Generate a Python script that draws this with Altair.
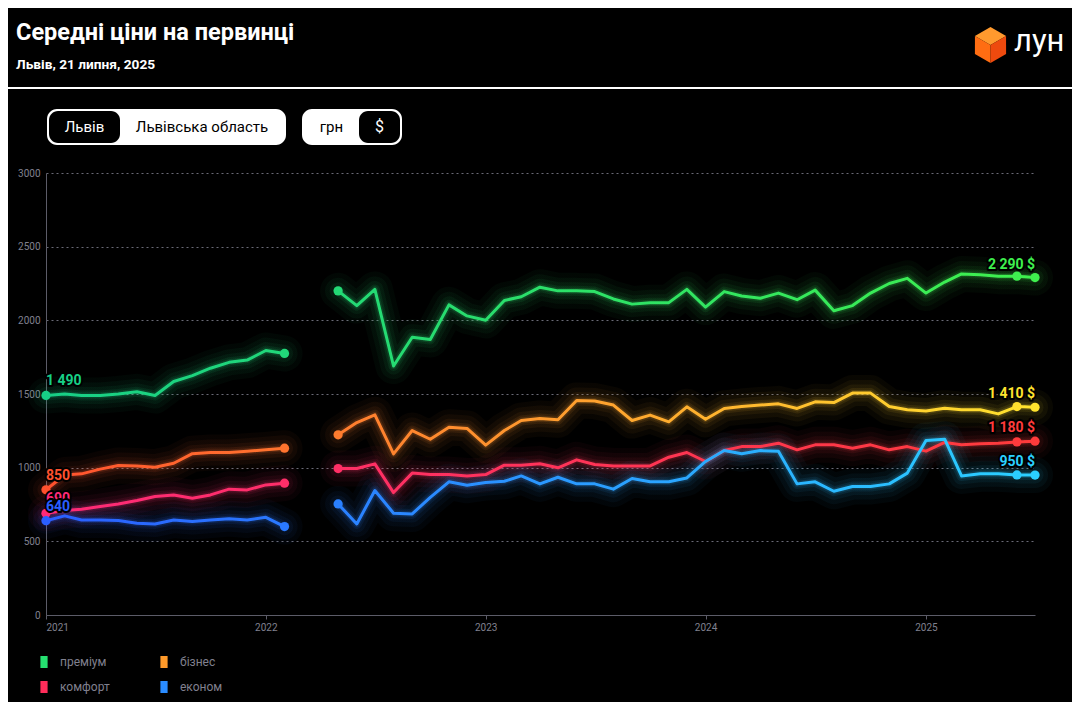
import altair as alt
import pandas as pd

# ---------------- data ----------------
MONTHS = [f"{y}-{m:02d}-01" for y in range(2021, 2026) for m in range(1, 13)][:55]

SERIES = ["преміум", "бізнес", "комфорт", "економ"]

PREMIUM = [1490, 1500, 1490, 1490, 1500, 1515, 1490, 1585, 1625, 1675, 1715, 1730, 1795, 1775,
           None, None,
           2200, 2100, 2210, 1690, 1885, 1870, 2105, 2030, 2000, 2135, 2160, 2225, 2200, 2200,
           2195, 2145, 2110, 2120, 2120, 2210, 2090, 2195, 2165, 2150, 2185, 2140, 2205, 2065,
           2100, 2185, 2250, 2285, 2185, 2260, 2315, 2310, 2300, 2300, 2290]
BUSINESS = [850, 950, 958, 990, 1015, 1012, 1003, 1030, 1095, 1103, 1103, 1112, 1121, 1132,
            None, None,
            1223, 1306, 1359, 1094, 1252, 1193, 1275, 1266, 1153, 1252, 1320, 1334, 1325, 1456,
            1452, 1425, 1320, 1357, 1311, 1413, 1329, 1402, 1415, 1425, 1433, 1402, 1447, 1442,
            1506, 1506, 1415, 1393, 1384, 1404, 1393, 1393, 1365, 1415, 1410]
COMFORT = [690, 709, 718, 736, 754, 777, 804, 815, 793, 815, 854, 849, 883, 895,
           None, None,
           994, 994, 1026, 831, 963, 953, 953, 944, 953, 1017, 1017, 1026, 999, 1053,
           1021, 1012, 1012, 1012, 1071, 1103, 1042, 1116, 1143, 1143, 1166, 1121, 1155, 1155,
           1132, 1155, 1121, 1143, 1112, 1171, 1155, 1162, 1166, 1175, 1180]
ECONOM = [640, 673, 645, 645, 641, 623, 618, 645, 634, 645, 654, 645, 663, 600,
          None, None,
          754, 618, 845, 691, 686, 799, 904, 881, 899, 908, 944, 890, 935, 890,
          890, 854, 926, 904, 904, 930, 1042, 1116, 1094, 1116, 1112, 890, 904, 840,
          872, 872, 890, 963, 1184, 1193, 944, 958, 958, 951, 950]

VALUES = {"преміум": PREMIUM, "бізнес": BUSINESS, "комфорт": COMFORT, "економ": ECONOM}

TITLE = "Середні ціни на первинці"
SUBTITLE = "Львів, 21 липня, 2025"
Y_TICKS = [0, 500, 1000, 1500, 2000, 2500, 3000]
YEARS = [2021, 2022, 2023, 2024, 2025]

# ---------------- styles ----------------
C0 = {"преміум": "#17cf86", "бізнес": "#ff512e", "комфорт": "#ff2a78", "економ": "#2a5eff"}
C1 = {"преміум": "#3ff04e", "бізнес": "#ffe32e", "комфорт": "#ff3b3b", "економ": "#2bd0ff"}
LEGEND_COLORS = ["#25e070", "#ff9a2a", "#ff2d5a", "#2a8cff"]
FONT = "Roboto"
LAST = len(MONTHS) - 1


def mix(a, b, t):
    a = [int(a[i:i + 2], 16) for i in (1, 3, 5)]
    b = [int(b[i:i + 2], 16) for i in (1, 3, 5)]
    return "#" + "".join(f"{round(x + (y - x) * t):02x}" for x, y in zip(a, b))


rows = []
for s in SERIES:
    for i, (d, v) in enumerate(zip(MONTHS, VALUES[s])):
        if v is not None:
            rows.append({"series": s, "date": d, "m": i, "value": v, "seg": 0 if i <= 13 else 1})
df = pd.DataFrame(rows)

SEGS = {0: (0, 13), 1: (16, LAST)}

X = alt.X("date:T", title=None,
          scale=alt.Scale(type="utc", domain=[alt.DateTime(year=2021, month=1, date=1, utc=True),
                                              alt.DateTime(year=2025, month=7, date=1, utc=True)]),
          axis=alt.Axis(values=[alt.DateTime(year=y, month=1, date=1, utc=True) for y in YEARS],
                        format="%Y", labelFlush=True, grid=False, tickSize=4,
                        labelPadding=3, labelFontSize=10))
Y = alt.Y("value:Q", title=None, scale=alt.Scale(domain=[0, 3000], nice=False),
          axis=alt.Axis(values=Y_TICKS, format="d", ticks=False, grid=True, labelPadding=6,
                        labelFontSize=10, gridDash=[2, 3]))

one = pd.DataFrame({"k": [0]})


def deco_rect(x, x2, y, y2, color, r):
    return alt.Chart(one).mark_rect(color=color, cornerRadius=r).encode(
        x=alt.value(x), x2=alt.value(x2), y=alt.value(y), y2=alt.value(y2))


def deco_text(txt, x, y, size, color, weight="normal", align="left", baseline="alphabetic"):
    return alt.Chart(one).mark_text(text=txt, font=FONT, fontSize=size, color=color,
                                    fontWeight=weight, align=align, baseline=baseline).encode(
        x=alt.value(x), y=alt.value(y))


def face(path, color):
    return alt.Chart(one).mark_point(shape=path, filled=True, size=1296, color=color,
                                     opacity=1, strokeWidth=0).encode(
        x=alt.value(944.5), y=alt.value(-128))


deco = [
    deco_rect(-38, 1026, -86, -84, "#ffffff", 0),
    deco_text(TITLE, -30, -133, 23.5, "#ffffff", "bold"),
    deco_text(SUBTITLE, -30, -104.5, 13.7, "#ffffff", "bold"),
    face("M0,-1 L0.866,-0.5 L0,0 L-0.866,-0.5 Z", "#ff9a2e"),
    face("M-0.866,-0.5 L0,0 L0,1 L-0.866,0.5 Z", "#ff6d12"),
    face("M0,0 L0.866,-0.5 L0.866,0.5 L0,1 Z", "#ee4a0e"),
    deco_text("лун", 968, -122, 31, "#ffffff", "normal"),
    deco_rect(1, 240, -64, -28, "#ffffff", 10),
    deco_rect(3, 74, -62, -30, "#000000", 9),
    deco_text("Львів", 38.5, -46, 15, "#ffffff", "normal", "center", "middle"),
    deco_text("Львівська область", 156, -46, 15, "#000000", "normal", "center", "middle"),
    deco_rect(256, 356, -64, -28, "#ffffff", 10),
    deco_rect(313, 354, -62, -30, "#000000", 9),
    deco_text("грн", 285.5, -46, 15, "#000000", "normal", "center", "middle"),
    deco_text("$", 333.5, -46, 16, "#ffffff", "normal", "center", "middle"),
]

base = alt.Chart(df)
glow, lines, dots, labels = [], [], [], []
for s in SERIES:
    for k, (a, b) in SEGS.items():
        grad = alt.Gradient(gradient="linear",
                            stops=[alt.GradientStop(color=mix(C0[s], C1[s], a / LAST), offset=0),
                                   alt.GradientStop(color=mix(C0[s], C1[s], b / LAST), offset=1)],
                            x1=0, x2=1, y1=0, y2=0)
        f = base.transform_filter(f"datum.series == '{s}' && datum.seg == {k}")
        for w, op in [(36, 0.035), (26, 0.045), (17, 0.06), (10, 0.09), (6, 0.14)]:
            glow.append(f.mark_line(stroke=grad, strokeWidth=w, opacity=op, interpolate="linear",
                                    strokeCap="round", strokeJoin="round").encode(x=X, y=Y))
        lines.append(f.mark_line(stroke=grad, strokeWidth=3, interpolate="linear",
                                 strokeCap="round", strokeJoin="round").encode(x=X, y=Y))
    lines.append(base.transform_filter(f"datum.series == '{s}' && datum.m >= {LAST - 1}")
                 .mark_line(color=C1[s], strokeWidth=2, strokeDash=[4, 3]).encode(x=X, y=Y))
    dots.append(base.transform_filter(
        f"datum.series == '{s}' && indexof([0, 13, 16, {LAST - 1}, {LAST}], datum.m) >= 0")
        .mark_circle(size=85, opacity=1)
        .encode(x=X, y=Y, color=alt.Color("m:Q", legend=None,
                                          scale=alt.Scale(domain=[0, LAST], range=[C0[s], C1[s]],
                                                          interpolate="rgb"))))
    lab = base.transform_calculate(lab="replace(format(datum.value, ',d'), ',', ' ')")
    left = lab.transform_filter(f"datum.series == '{s}' && datum.m == 0")
    right = lab.transform_filter(f"datum.series == '{s}' && datum.m == {LAST}") \
        .transform_calculate(lab2="datum.lab + ' $'")
    for fill in (False, True):
        kw = dict(color=C0[s]) if fill else dict(color="#000000", stroke="#000000", strokeWidth=4,
                                                 strokeJoin="round")
        labels.append(left.mark_text(align="left", baseline="alphabetic", dy=-10, font=FONT,
                                     fontSize=14, fontWeight="bold", **kw)
                      .encode(x=X, y=Y, text="lab:N"))
        kw = dict(color=C1[s]) if fill else dict(color="#000000", stroke="#000000", strokeWidth=4,
                                                 strokeJoin="round")
        labels.append(right.mark_text(align="right", baseline="alphabetic", dy=-9, font=FONT,
                                      fontSize=14, fontWeight="bold", **kw)
                      .encode(x=X, y=Y, text="lab2:N"))

legend_layer = base.mark_square(opacity=0).encode(
    x=X, y=Y,
    color=alt.Color("series:N", scale=alt.Scale(domain=SERIES, range=LEGEND_COLORS),
                    legend=alt.Legend(orient="none", legendX=-8, legendY=483, columns=2,
                                      direction="horizontal", title=None,
                                      symbolType="M-0.6,-1 L0.6,-1 L0.6,1 L-0.6,1 Z",
                                      symbolSize=144, symbolStrokeWidth=0, symbolOpacity=1,
                                      labelFont=FONT, labelFontSize=12, labelColor="#80808f",
                                      labelOffset=10, columnPadding=48, rowPadding=13)))

chart = alt.layer(*deco, *glow, *lines, *dots, *labels, legend_layer).resolve_scale(
    color="independent"
).properties(
    width=989, height=442,
    padding={"left": 38, "top": 165, "right": 37, "bottom": 87},
    autosize=alt.AutoSizeParams(type="none"),
    background="#000000",
).configure_view(stroke=None).configure_axis(
    labelFont=FONT, labelColor="#80808f", domainColor="#5c5c68", tickColor="#5c5c68",
    gridColor="#6a6a76", domainWidth=1
)

chart.save("out.html", embed_options={"renderer": "svg", "actions": False})
